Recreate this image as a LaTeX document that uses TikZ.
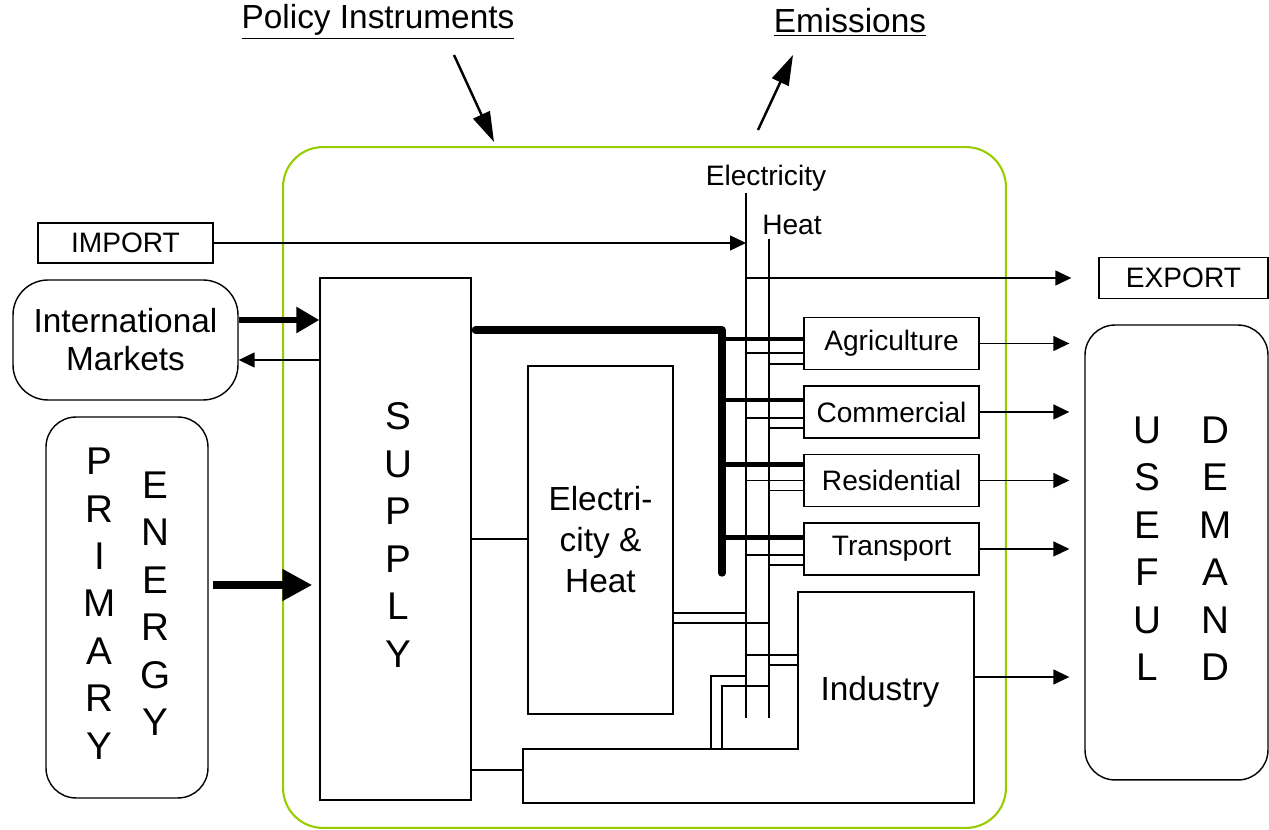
\documentclass[tikz,border=0pt]{standalone}
\usepackage{fontspec}
\setmainfont{Liberation Sans}
\usetikzlibrary{arrows.meta, positioning}

\definecolor{limeframe}{RGB}{153,204,0}

\begin{document}
\begin{tikzpicture}[x=0.02cm, y=-0.02cm, line width=0.8pt, node distance=1.37cm, on grid,
        box/.style={draw, inner sep=0pt},
        rbox/.style={box, rounded corners=0.6cm},
        tag/.style={box, minimum width=3.5cm, minimum height=0.8cm, font=\fontsize{16}{19}\selectfont},
        sector/.style={box, minimum width=3.5cm, minimum height=1.04cm, font=\fontsize{16}{19}\selectfont},
        small/.style={font=\fontsize{16}{19}\selectfont},
        title/.style={font=\fontsize{19}{22}\selectfont},
        big/.style={font=\fontsize{22}{27}\selectfont},
        fuel/.style={line width=2.8pt},
        flow/.style={-{Triangle[length=3.2mm, width=3mm]}},
        bigflow/.style={line width=3.4pt, -{Triangle[length=4.6mm, width=5mm]}},
        hint/.style={line width=1.4pt, -{Triangle[length=6mm, width=3.6mm]}}]
            \useasboundingbox (0,0) rectangle (1269,830);

            % model boundary
            \node[draw=limeframe, line width=1.2pt, rounded corners=0.8cm,
                minimum width=14.46cm, minimum height=13.62cm] (model) at (644.5,487.5) {};

            \node[title] (pol) at (378,22) {\underline{Policy Instruments}};
            \node[title] (emi) at (850,22) {\underline{Emissions}};

            % outside boxes
            \node[tag] (imp) at (125.5,243) {IMPORT};
            \node[tag, minimum width=3.38cm, minimum height=0.82cm] (exp) at (1183.5,278) {EXPORT};
            \node[rbox, rounded corners=0.7cm, minimum width=4.5cm, minimum height=2.4cm, align=center,
                font=\fontsize{19}{21.6}\selectfont] (mkt) at (125.5,340) {International\\Markets};
            \node[rbox, minimum width=3.24cm, minimum height=7.62cm, big] (prim) at (127,607.5)
                {\begin{tabular}{@{}c@{}}P\\R\\I\\M\\A\\R\\Y\end{tabular}\hspace{0.5cm}%
                 \begin{tabular}{@{}c@{}}E\\N\\E\\R\\G\\Y\end{tabular}\hspace{0.24cm}};
            \node[rbox, minimum width=3.66cm, minimum height=9.1cm, big] (dem) at (1176.5,552.5)
                {\hspace{0.24cm}\begin{tabular}{@{}c@{\hspace{0.75cm}}c@{}}U&D\\S&E\\E&M\\F&A\\U&N\\L&D\end{tabular}};

            % supply side
            \node[box, minimum width=3.02cm, minimum height=10.44cm, big] (sup) at (395.5,539)
                {\hspace{0.1cm}\raisebox{0.18cm}{\begin{tabular}{@{}c@{}}S\\U\\P\\P\\L\\Y\end{tabular}}};
            \node[box, minimum width=2.9cm, minimum height=6.96cm, align=center,
                font=\fontsize{19}{23.3}\selectfont] (eh) at (600.5,540) {Electri-\\city \&\\Heat};

            % demand sectors
            \node[sector] (agr) at (891.5,343.5) {Agriculture};
            \node[sector] (com) [below=of agr] {Commercial};
            \node[sector] (res) [below=of com] {Residential};
            \node[sector] (tra) [below=of res] {Transport};

            \coordinate (indnw) at (798,592);
            \coordinate (indne) at (974,592);
            \coordinate (indse) at (974,803);
            \coordinate (indsw) at (523,803);
            \coordinate (indw) at (523,749);
            \coordinate (indk) at (798,749);
            \draw (indnw) -- (indne) -- (indse) -- (indsw) -- (indw) -- (indk) -- cycle;
            \node[title] (ind) at (880,692) {Industry};

            % electricity and heat busbars
            \node[small] (elab) at (766,178) {Electricity};
            \node[small] (hlab) at (792,225) {Heat};
            \coordinate (etop) at (746,193);
            \coordinate (ebot) at (746,718);
            \coordinate (htop) at (769,239);
            \coordinate (hbot) at (769,718);
            \draw (etop) -- (ebot);
            \draw (htop) -- (hbot);

            % fuel trunk
            \coordinate (bend) at (722,330);
            \coordinate (trunk) at (722,573);
            \draw[line width=4.2pt, line join=round, line cap=round, shorten <=2.1pt]
                (bend -| sup.east) -- (bend) -- (trunk);

            \foreach \s/\f/\e/\h in {agr/0.09/-0.19/-0.41, com/0.24/-0.12/-0.32,
                                     res/0.32/0/-0.2, tra/0.22/-0.12/-0.32} {
                \coordinate (f\s) at ([yshift=\f cm]\s.west);
                \coordinate (e\s) at ([yshift=\e cm]\s.west);
                \coordinate (h\s) at ([yshift=\h cm]\s.west);
                \draw[fuel] (f\s) -- (f\s -| trunk);
                \draw (e\s) -- (e\s -| etop);
                \draw (h\s) -- (h\s -| htop);
                \draw[flow, shorten >=0.3cm] (\s.east) -- (\s.east -| dem.west);
            }

            % power plants into the busbars
            \coordinate (ehe) at ([yshift=-1.46cm]eh.east);
            \coordinate (ehh) at ([yshift=-1.66cm]eh.east);
            \draw (ehe) -- (ehe -| etop);
            \draw (ehh) -- (ehh -| htop);

            % industry
            \coordinate (ine) at (798,655);
            \coordinate (inh) at (798,665);
            \draw (ine) -- (ine -| etop);
            \draw (inh) -- (inh -| htop);
            \coordinate (ape) at (711,749);
            \coordinate (apeT) at (711,676);
            \coordinate (aph) at (722,749);
            \coordinate (aphT) at (722,686);
            \draw (ape) -- (apeT) -- (apeT -| etop);
            \draw (aph) -- (aphT) -- (aphT -| htop);
            \coordinate (indout) at (974,677);
            \draw[flow, shorten >=0.3cm] (indout) -- (indout -| dem.west);

            % supply links
            \draw (sup.east) -- (sup.east -| eh.west);
            \coordinate (indin) at (523,770);
            \draw (indin -| sup.east) -- (indin);

            % trade
            \draw[flow] (imp.east) -- (imp.east -| etop);
            \draw[flow, shorten >=0.54cm] (exp.west -| etop) -- (exp.west);
            \coordinate (mkin) at ([yshift=0.4cm]mkt.east);
            \coordinate (mkout) at ([yshift=-0.4cm]mkt.east);
            \draw[bigflow] (mkin) -- (mkin -| sup.west);
            \draw[flow] (mkout -| sup.west) -- (mkout);

            \coordinate (pein) at ([yshift=0.45cm]prim.east);
            \draw[bigflow, line width=4.5pt, -{Triangle[length=6mm, width=6mm]}, shorten <=0.08cm, shorten >=0.14cm]
                (pein) -- (pein -| sup.west);

            % policy in, emissions out
            \coordinate (polA) at (454,55);
            \coordinate (polB) at (494,142);
            \coordinate (emiA) at (758,130);
            \coordinate (emiB) at (793,55);
            \draw[hint] (polA) -- (polB);
            \draw[hint] (emiA) -- (emiB);
\end{tikzpicture}
\end{document}
